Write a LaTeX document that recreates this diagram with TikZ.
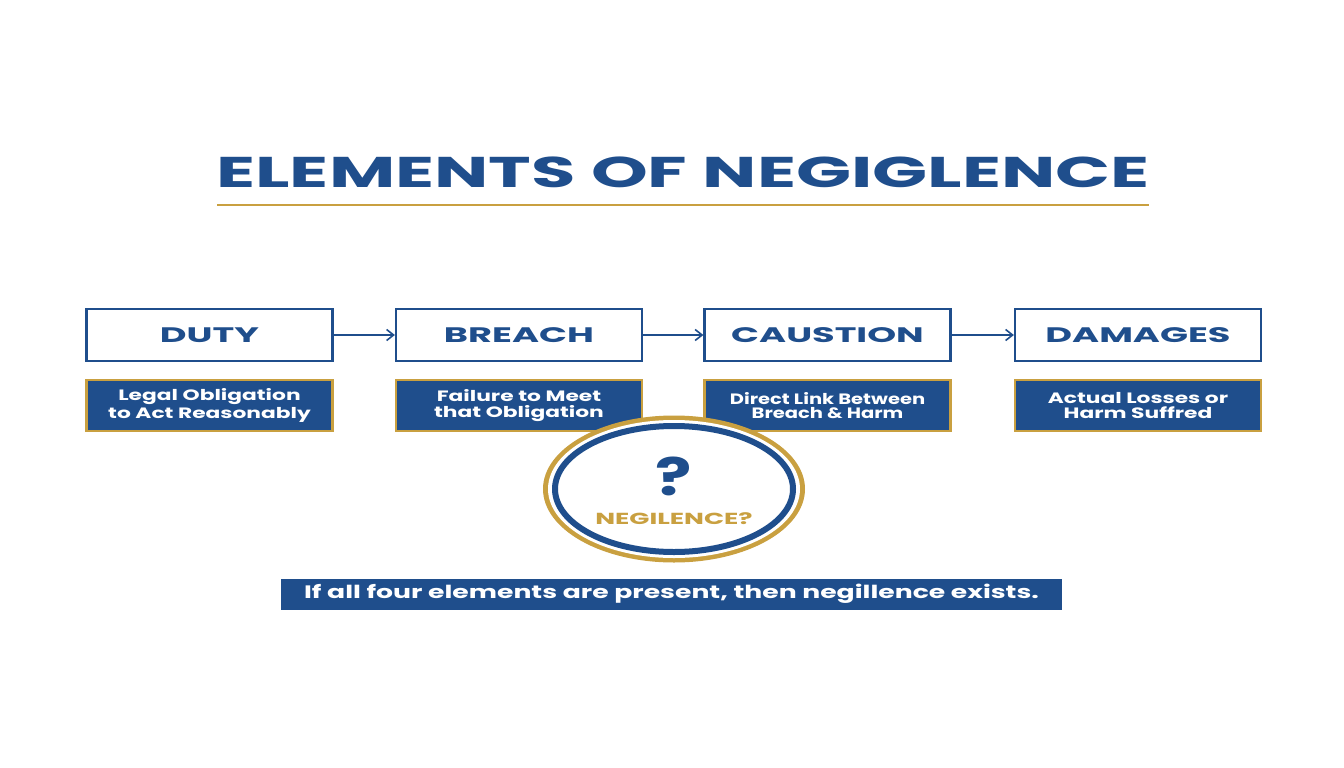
\documentclass[tikz,border=0pt]{standalone}
\usepackage{fontspec}
\usepackage{graphicx}
\setmainfont{Poppins}
\usetikzlibrary{arrows.meta,shapes.geometric}
\definecolor{nblue}{HTML}{1F4E8C}
\definecolor{ngold}{HTML}{C9A040}
\newcommand{\wide}[2]{\scalebox{#1}[1]{#2}}
\tikzset{
 top/.style={draw=nblue,line width=2.2pt,fill=white,minimum width=246pt,minimum height=52pt,inner sep=0pt,font=\fontsize{21}{24}\selectfont\bfseries,text=nblue},
 sub/.style={draw=ngold,line width=2.2pt,fill=nblue,minimum width=246pt,minimum height=51pt,inner sep=0pt,align=center,font=\fontsize{15}{18}\selectfont\bfseries,text=white},
 arr/.style={draw=nblue,line width=1.6pt,-{Straight Barb[length=7pt,width=11pt]}}
}
\begin{document}
\begin{tikzpicture}[x=1pt,y=-1pt]
\useasboundingbox[fill=white] (0,0) rectangle (1344,768);
\node[text=nblue,font=\fontsize{43}{46}\selectfont\bfseries] (title) at (683,172) {\wide{1.68}{ELEMENTS OF NEGIGLENCE}};
\draw[ngold,line width=2.4pt] (217,205) coordinate (ul1) -- (1149,205) coordinate (ul2);
\node[top] (duty) at (209.5,335) {\wide{1.75}{DUTY}};
\node[top] (breach) at (519,335) {\wide{1.75}{BREACH}};
\node[top] (caus) at (827.5,335) {\wide{1.75}{CAUSTION}};
\node[top] (dam) at (1138,335) {\wide{1.75}{DAMAGES}};
\draw[arr] (duty) -- (breach);
\draw[arr] (breach) -- (caus);
\draw[arr] (caus) -- (dam);
\node[sub] (s1) at (209.5,405.5) {\wide{1.45}{\shortstack{Legal Obligation\\to Act Reasonably}}};
\node[sub] (s2) at (519,405.5) {\wide{1.45}{\shortstack{Failure to Meet\\that Obligation}}};
\node[sub] (s3) at (827.5,405.5) {\wide{1.3}{\shortstack{Direct Link Between\\Breach \& Harm}}};
\node[sub] (s4) at (1138,405.5) {\wide{1.45}{\shortstack{Actual Losses or\\Harm Suffred}}};
\node[ellipse,fill=ngold,minimum width=262pt,minimum height=147pt,inner sep=0pt] (outer) at (674,489) {};
\node[ellipse,fill=white,minimum width=252pt,minimum height=138pt,inner sep=0pt] at (674,489) {};
\node[ellipse,draw=nblue,line width=6pt,fill=white,minimum width=238pt,minimum height=126pt,inner sep=0pt] (inner) at (674,489) {};
\node[text=nblue,font=\fontsize{52}{56}\selectfont\bfseries] (q) at (674,476) {\wide{1.3}{?}};
\node[text=ngold,font=\fontsize{16}{18}\selectfont\bfseries] (neg) at (674,519) {\wide{1.65}{NEGILENCE?}};
\node[fill=nblue,minimum width=781pt,minimum height=31pt,inner sep=0pt,text=white,font=\fontsize{18}{20}\selectfont\bfseries] (banner) at (671.5,594) {\wide{1.48}{If all four elements are present, then negillence exists.}};
\end{tikzpicture}
\end{document}
